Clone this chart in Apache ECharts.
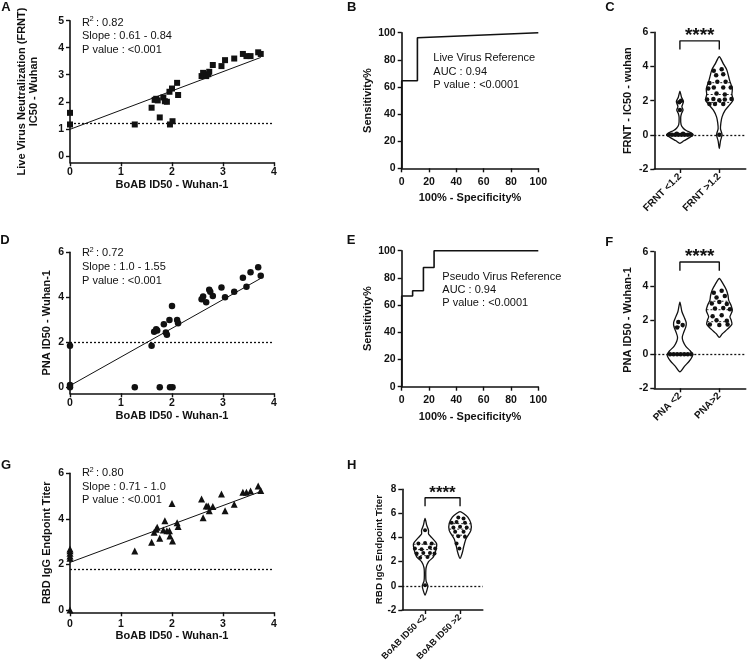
<!DOCTYPE html>
<html>
<head>
<meta charset="utf-8">
<script src="https://cdn.jsdelivr.net/npm/echarts@6/dist/echarts.min.js"></script>
<style>
  html, body { margin: 0; padding: 0; background: #fff; }
  #chart { width: 747px; height: 667px; }
</style>
</head>
<body>
<div id="chart"></div>
<script>
// ---- data ----
// A: BoAB ID50 vs live virus FRNT IC50
const pointsA = [[0,1.59],[0,1.16],[1.27,1.16],[1.60,1.78],[1.66,2.07],[1.69,2.11],[1.72,2.05],[1.76,1.42],[1.83,2.16],[1.86,2.02],[1.90,2.0],[1.95,2.37],[1.96,1.16],[2.0,2.49],[2.01,1.28],[2.10,2.70],[2.12,2.25],[2.58,2.95],[2.61,3.07],[2.67,2.95],[2.71,3.02],[2.73,3.11],[2.80,3.36],[2.97,3.32],[3.04,3.54],[3.22,3.60],[3.39,3.77],[3.46,3.69],[3.54,3.69],[3.69,3.83],[3.74,3.77]];
const fitA = [[0,0.98],[3.74,3.64]];
const cutA = 1.2;
// D: BoAB ID50 vs PNA ID50
const pointsD = [[0,1.84],[0,0.1],[0,0],[1.27,0],[1.60,1.85],[1.65,2.47],[1.69,2.58],[1.71,2.52],[1.76,0],[1.84,2.8],[1.88,2.43],[1.90,2.33],[1.95,2.99],[1.96,0],[2.0,3.61],[2.01,0],[2.10,2.99],[2.12,2.84],[2.58,3.91],[2.61,4.03],[2.67,3.78],[2.73,4.33],[2.75,4.25],[2.80,4.06],[2.97,4.43],[3.04,4.0],[3.22,4.25],[3.39,4.87],[3.46,4.47],[3.54,5.11],[3.69,5.33],[3.74,4.96]];
const fitD = [[0,0.07],[3.74,4.84]];
const cutD = 2;
// G: BoAB ID50 vs RBD IgG endpoint titer
const pointsG = [[0,2.68],[0,2.6],[0,2.49],[0,2.37],[0,2.27],[0,0],[1.27,2.59],[1.60,2.97],[1.65,3.41],[1.69,3.54],[1.71,3.63],[1.76,3.15],[1.83,3.51],[1.86,3.92],[1.90,3.48],[1.95,3.48],[1.96,3.25],[2.0,4.68],[2.01,3.03],[2.10,3.83],[2.12,3.66],[2.58,4.87],[2.61,4.05],[2.67,4.57],[2.71,4.57],[2.73,4.36],[2.80,4.54],[2.97,5.09],[3.04,4.36],[3.22,4.64],[3.39,5.17],[3.46,5.17],[3.54,5.22],[3.69,5.44],[3.74,5.24]];
const fitG = [[0,2.09],[3.74,5.2]];
const cutG = 1.8;
// B, E: ROC curves (100% - specificity, sensitivity)
const rocB = [[0,0],[0,64.6],[11.5,64.6],[11.5,96.3],[100,100]];
const rocE = [[0,0],[0,66.7],[8,66.7],[8,70.6],[15.9,70.6],[15.9,87.7],[23.7,87.7],[23.7,100],[100,100]];
// C, F, H: violin profiles [value, half width in category units], quartiles, dots
const catsC = ['FRNT <1.2', 'FRNT >1.2'];
const violinC1 = [[-0.5,0],[-0.35,0.1],[-0.15,0.25],[0,0.34],[0.12,0.28],[0.25,0.16],[0.4,0.08],[0.6,0.03],[1.0,0.02],[1.25,0.04],[1.45,0.08],[1.65,0.05],[1.95,0.09],[2.2,0.04],[2.55,0]];
const violinC2 = [[-0.8,0],[-0.35,0.03],[0,0.07],[0.35,0.03],[0.7,0.04],[1.05,0.07],[1.44,0.15],[1.75,0.26],[2.03,0.35],[2.35,0.32],[2.7,0.33],[3.2,0.26],[3.8,0.19],[4.17,0.1],[4.57,0]];
const quartC1 = [0, 0, 0];
const quartC2 = [1.9, 2.36, 3.05];
const dotsC1 = [[0.72,0],[0.8,0],[0.88,0],[0.96,0],[1.04,0],[1.12,0],[1.2,0],[1.28,0],[0.92,0.06],[1.08,0.06],[1.0,1.45],[0.98,1.9],[1.03,2.0]];
const dotsC2 = [[1.86,3.75],[2.06,3.84],[1.92,3.49],[2.10,3.55],[1.75,3.04],[1.95,3.10],[2.16,3.10],[1.72,2.71],[1.86,2.77],[2.10,2.77],[2.29,2.77],[1.93,2.42],[2.14,2.36],[1.69,2.07],[1.85,2.09],[2.0,2.03],[2.14,2.07],[2.31,2.09],[1.75,1.80],[1.89,1.80],[2.10,1.80],[2.0,0]];
const catsF = ['PNA <2', 'PNA>2'];
const violinF1 = [[-1.03,0],[-0.7,0.12],[-0.4,0.24],[-0.15,0.31],[0,0.32],[0.2,0.26],[0.45,0.15],[0.75,0.08],[1.0,0.06],[1.3,0.1],[1.6,0.15],[1.85,0.16],[2.1,0.12],[2.5,0.05],[3.05,0]];
const violinF2 = [[0.98,0],[1.2,0.08],[1.45,0.2],[1.75,0.32],[2.0,0.3],[2.2,0.27],[2.55,0.33],[2.85,0.3],[3.15,0.24],[3.45,0.22],[3.75,0.18],[4.1,0.1],[4.43,0]];
const quartF1 = [0, 0, 1.6];
const quartF2 = [1.9, 2.6, 3.1];
const dotsF1 = [[0.75,0],[0.84,0],[0.93,0],[1.02,0],[1.11,0],[1.2,0],[1.29,0],[0.96,1.89],[1.07,1.70],[0.93,1.56]];
const dotsF2 = [[2.06,3.71],[1.86,3.59],[1.93,3.32],[2.14,3.40],[1.81,2.97],[2.0,3.06],[2.19,2.93],[1.89,2.67],[2.10,2.71],[2.27,2.63],[1.83,2.22],[2.06,2.28],[1.93,1.99],[2.19,1.95],[1.76,1.74],[2.0,1.70],[2.21,1.74]];
const catsH = ['BoAB ID50 <2', 'BoAB ID50 >2'];
const violinH1 = [[-0.77,0],[-0.4,0.05],[0,0.08],[0.4,0.03],[0.9,0.02],[1.5,0.03],[2.0,0.1],[2.4,0.24],[2.96,0.31],[3.5,0.33],[4.0,0.19],[4.3,0.1],[4.6,0.1],[5.0,0.05],[5.58,0]];
const violinH2 = [[2.27,0],[2.8,0.07],[3.2,0.1],[3.9,0.17],[4.6,0.31],[5.17,0.31],[5.7,0.22],[6.0,0.1],[6.15,0]];
const quartH1 = [2.5, 3.0, 3.45];
const quartH2 = [4.2, 4.7, 5.15];
const dotsH1 = [[0.81,3.51],[1.0,3.56],[1.19,3.51],[0.71,3.09],[0.90,3.04],[1.14,3.18],[1.29,3.09],[0.76,2.68],[0.95,2.73],[1.14,2.73],[1.27,2.68],[0.86,2.32],[1.07,2.40],[1.0,0.05],[1.0,4.6]];
const dotsH2 = [[1.95,5.66],[2.10,5.58],[1.76,5.22],[1.90,5.30],[2.14,5.22],[1.81,4.83],[2.0,4.89],[2.19,4.83],[1.86,4.48],[2.10,4.48],[1.95,4.12],[2.14,4.06],[1.90,3.51],[1.98,3.09]];
// significance brackets
const bracketC = [[1,5.0],[1,5.5],[2,5.5],[2,5.0]];
const bracketF = [[1,4.88],[1,5.4],[2,5.4],[2,4.88]];
const bracketH = [[1,6.6],[1,7.3],[2,7.3],[2,6.6]];

// ---- styling ----
const FONT = 'Liberation Sans, Arial, Helvetica, sans-serif';
const INK = '#111';
const chart = echarts.init(document.getElementById('chart'));

function axis(gi, min, max, ticks, o) {
  o = o || {};
  return {
    type: 'value', gridIndex: gi, min: min, max: max,
    name: o.name || '', nameLocation: 'middle', nameGap: o.gap || 20, nameMoveOverlap: false,
    nameTextStyle: { color: INK, fontSize: o.nameSize || 11, fontWeight: 'bold', fontFamily: FONT, lineHeight: 12 },
    axisLine: { show: true, onZero: false, lineStyle: { color: INK, width: 1.6 } },
    axisTick: { show: true, length: 4, customValues: ticks, lineStyle: { color: INK, width: 1.4 } },
    axisLabel: {
      customValues: ticks, color: INK, fontSize: o.size || 10.5, fontWeight: 'bold', fontFamily: FONT,
      margin: o.margin || 6, rotate: o.rotate || 0, formatter: o.fmt
    },
    splitLine: { show: false }
  };
}
function catFmt(cats) { return function (v) { return cats[Math.round(v) - 1] || ''; }; }

function halfWidthAt(profile, y) {
  for (let i = 1; i < profile.length; i++) {
    const a = profile[i - 1], b = profile[i];
    if (y >= a[0] && y <= b[0]) return a[1] + (b[1] - a[1]) * (y - a[0]) / (b[0] - a[0]);
  }
  return 0;
}
function violin(gi, center, profile, quart) {
  return {
    type: 'custom', xAxisIndex: gi, yAxisIndex: gi, data: [[center]], z: 3, silent: true,
    renderItem: function (params, api) {
      const right = profile.map(p => api.coord([center + p[1], p[0]]));
      const left = profile.filter(p => p[1] > 0).map(p => api.coord([center - p[1], p[0]])).reverse();
      const kids = [{ type: 'polygon', shape: { points: right.concat(left), smooth: 0.25 },
        style: { fill: '#fff', stroke: INK, lineWidth: 1.3 } }];
      quart.forEach(q => {
        const hw = halfWidthAt(profile, q);
        const a = api.coord([center - hw, q]), b = api.coord([center + hw, q]);
        kids.push({ type: 'line', shape: { x1: a[0], y1: a[1], x2: b[0], y2: b[1] },
          style: { stroke: INK, lineWidth: 0.9, lineDash: [2, 2] } });
      });
      return { type: 'group', children: kids };
    }
  };
}
function refLine(y) {
  return { silent: true, symbol: 'none', label: { show: false }, z: 1,
    lineStyle: { color: INK, width: 1.3, type: [2, 2] }, data: [{ yAxis: y }] };
}
function scatter(gi, data, symbol, size, extra) {
  return Object.assign({ type: 'scatter', xAxisIndex: gi, yAxisIndex: gi, data: data, symbol: symbol,
    symbolSize: size, clip: false, z: 5, itemStyle: { color: INK, opacity: 1 }, silent: true }, extra || {});
}
function line(gi, data, extra) {
  return Object.assign({ type: 'line', xAxisIndex: gi, yAxisIndex: gi, data: data, showSymbol: false,
    symbol: 'none', clip: false, silent: true, z: 4, lineStyle: { color: INK, width: 1 } }, extra || {});
}
function txt(x, y, s, size, bold, align) {
  return { type: 'text', x: x, y: y, silent: true,
    style: { text: s, fill: INK, font: (bold ? 'bold ' : '') + size + 'px ' + FONT,
      align: align || 'left', verticalAlign: 'middle' } };
}
function stats(x, y0, dy, r2, slope, p) {
  return [txt(x, y0, 'R', 11), txt(x + 7.6, y0 - 3.5, '2', 7.5), txt(x + 14, y0, ': ' + r2, 11),
    txt(x, y0 + dy, 'Slope : ' + slope, 11), txt(x, y0 + 2 * dy, 'P value : ' + p, 11)];
}

const grids = [
  { left: 70, top: 20.7, width: 204, height: 141.6 },     // A
  { left: 401.7, top: 32.7, width: 136.6, height: 135.6 }, // B
  { left: 654.3, top: 32.3, width: 91.4, height: 136.7 },  // C
  { left: 70, top: 252.3, width: 204, height: 141 },       // D
  { left: 401.7, top: 250.7, width: 136.6, height: 136 },  // E
  { left: 654.3, top: 251.7, width: 91.4, height: 136.6 }, // F
  { left: 70, top: 473.3, width: 204, height: 139 },       // G
  { left: 402.3, top: 489.3, width: 80.5, height: 120.7 }  // H
];

const x04 = [0, 1, 2, 3, 4];
const p100 = [0, 20, 40, 60, 80, 100];
const xAxes = [
  axis(0, 0, 4, x04, { name: 'BoAB ID50 - Wuhan-1', gap: 17, margin: 4 }),
  axis(1, 0, 100, p100, { name: '100% - Specificity%', gap: 24, margin: 8 }),
  axis(2, 0.35, 2.67, [1, 2], { rotate: 45, fmt: catFmt(catsC), size: 10, margin: 6 }),
  axis(3, 0, 4, x04, { name: 'BoAB ID50 - Wuhan-1', gap: 17, margin: 4 }),
  axis(4, 0, 100, p100, { name: '100% - Specificity%', gap: 24, margin: 8 }),
  axis(5, 0.35, 2.67, [1, 2], { rotate: 45, fmt: catFmt(catsF), size: 10, margin: 6 }),
  axis(6, 0, 4, x04, { name: 'BoAB ID50 - Wuhan-1', gap: 18, margin: 6 }),
  axis(7, 0.35, 2.65, [1, 2], { rotate: 45, fmt: catFmt(catsH), size: 9, margin: 6 })
];
const yAxes = [
  axis(0, -0.24, 5, [0, 1, 2, 3, 4, 5], { name: 'Live Virus Neutralization (FRNT)\nIC50 - Wuhan', gap: 30 }),
  axis(1, 0, 100, p100, { name: 'Sensitivity%', gap: 28 }),
  axis(2, -2, 6, [-2, 0, 2, 4, 6], { name: 'FRNT - IC50 - wuhan', gap: 20 }),
  axis(3, -0.27, 6, [0, 2, 4, 6], { name: 'PNA ID50 - Wuhan-1', gap: 17 }),
  axis(4, 0, 100, p100, { name: 'Sensitivity%', gap: 28 }),
  axis(5, -2, 6, [-2, 0, 2, 4, 6], { name: 'PNA ID50 - Wuhan-1', gap: 20 }),
  axis(6, -0.1, 6, [0, 2, 4, 6], { name: 'RBD IgG Endpoint Titer', gap: 17 }),
  axis(7, -2, 8, [-2, 0, 2, 4, 6, 8], { name: 'RBD IgG Endpoint Titer', gap: 17, nameSize: 9.8, size: 10 })
];

const series = [
  // A
  scatter(0, pointsA, 'rect', 6, { markLine: refLine(cutA) }),
  line(0, fitA),
  // B
  line(1, rocB, { lineStyle: { color: INK, width: 1.6 } }),
  // C
  violin(2, 1, violinC1, quartC1),
  violin(2, 2, violinC2, quartC2),
  scatter(2, dotsC1.concat(dotsC2), 'circle', 4.5, { markLine: refLine(0) }),
  line(2, bracketC, { lineStyle: { color: INK, width: 1.4 } }),
  // D
  scatter(3, pointsD, 'circle', 6.5, { markLine: refLine(cutD) }),
  line(3, fitD),
  // E
  line(4, rocE, { lineStyle: { color: INK, width: 1.6 } }),
  // F
  violin(5, 1, violinF1, quartF1),
  violin(5, 2, violinF2, quartF2),
  scatter(5, dotsF1.concat(dotsF2), 'circle', 4.5, { markLine: refLine(0) }),
  line(5, bracketF, { lineStyle: { color: INK, width: 1.4 } }),
  // G
  scatter(6, pointsG, 'triangle', 7, { markLine: refLine(cutG) }),
  line(6, fitG),
  // H
  violin(7, 1, violinH1, quartH1),
  violin(7, 2, violinH2, quartH2),
  scatter(7, dotsH1.concat(dotsH2), 'circle', 4, { markLine: refLine(0) }),
  line(7, bracketH, { lineStyle: { color: INK, width: 1.4 } })
];

const graphic = [
  txt(6, 7, 'A', 13, true, 'center'), txt(351.7, 7.3, 'B', 13, true, 'center'), txt(610, 7.3, 'C', 13, true, 'center'),
  txt(5, 240, 'D', 13, true, 'center'), txt(351, 240.7, 'E', 13, true, 'center'), txt(609.3, 242.7, 'F', 13, true, 'center'),
  txt(6, 465, 'G', 13, true, 'center'), txt(351.7, 465, 'H', 13, true, 'center'),
  txt(433.3, 58.3, 'Live Virus Reference', 11), txt(433.3, 71.7, 'AUC : 0.94', 11), txt(433.3, 85, 'P value : <0.0001', 11),
  txt(442.3, 276.7, 'Pseudo Virus Reference', 11), txt(442.3, 290, 'AUC : 0.94', 11), txt(442.3, 303.3, 'P value : <0.0001', 11),
  txt(699.7, 36, '****', 19, true, 'center'), txt(699.7, 256.5, '****', 19, true, 'center'), txt(442.5, 493, '****', 17, true, 'center')
].concat(stats(82, 22.7, 13.6, '0.82', '0.61 - 0.84', '<0.001'))
 .concat(stats(82, 253.3, 13.7, '0.72', '1.0 - 1.55', '<0.001'))
 .concat(stats(82, 473.3, 13.4, '0.80', '0.71 - 1.0', '<0.001'));

chart.setOption({
  animation: false,
  backgroundColor: '#fff',
  grid: grids,
  xAxis: xAxes,
  yAxis: yAxes,
  series: series,
  graphic: graphic
});
</script>
</body>
</html>
